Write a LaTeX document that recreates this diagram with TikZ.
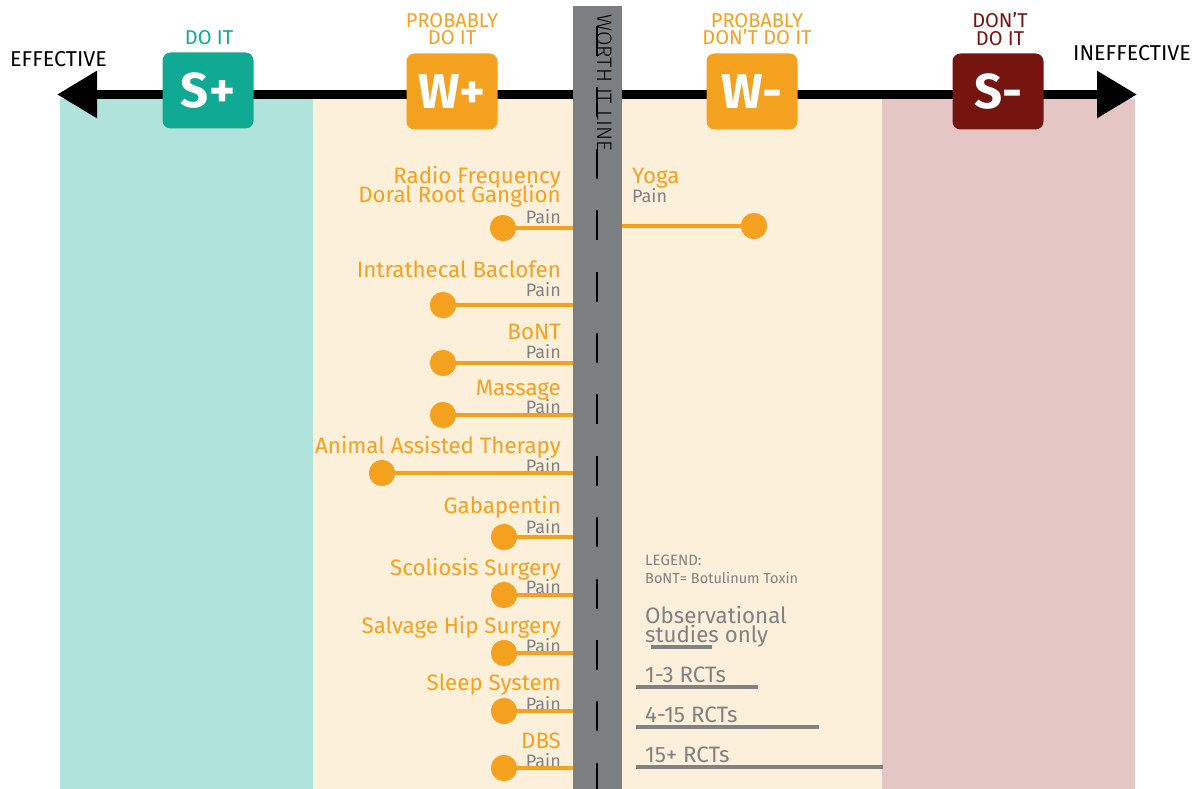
\documentclass[tikz,border=0pt]{standalone}
\usepackage{fontspec}
\setmainfont{Fira Sans}
\newfontfamily\thinfont{Fira Sans Light}
\usetikzlibrary{arrows.meta}

\definecolor{tealband}{HTML}{B0E3DB}
\definecolor{creamband}{HTML}{FDF0DB}
\definecolor{pinkband}{HTML}{E4C7C4}
\definecolor{barcol}{HTML}{7C7F82}
\definecolor{orng}{HTML}{F4A11F}
\definecolor{tealbox}{HTML}{0FA994}
\definecolor{darkred}{HTML}{76140F}
\definecolor{txtgray}{HTML}{808285}

\tikzset{
  verdict/.style={rounded corners=8pt, minimum width=91pt, minimum height=76pt,
    inner sep=0pt, text=white, font=\bfseries\fontsize{49}{49}\selectfont},
  toplabel/.style={anchor=base, inner sep=0pt, align=center, font=\fontsize{20}{17.5}\selectfont},
  axislabel/.style={font=\fontsize{21.5}{21.5}\selectfont, text=black},
  treat/.style={anchor=base east, text=orng, inner sep=0pt, font=\fontsize{22.3}{22.3}\selectfont},
  outcome/.style={anchor=base east, text=txtgray, inner sep=0pt, font=\fontsize{18}{18}\selectfont},
  dot/.style={circle, fill=orng, minimum size=26pt, inner sep=0pt},
  stem/.style={draw=orng, line width=4pt},
  legtext/.style={anchor=base west, text=txtgray, inner sep=0pt},
  legbar/.style={draw=txtgray, line width=4pt},
}

\begin{document}
\begin{tikzpicture}[x=1pt, y=-1pt]
\useasboundingbox (0,0) rectangle (1192,789);

% background bands
\fill[tealband] (60,99) rectangle (313,789);
\fill[creamband] (313,99) rectangle (882,789);
\fill[pinkband] (882,99) rectangle (1135,789);

% effectiveness axis
\coordinate (axL) at (57,94.5);
\coordinate (axR) at (1137,94.5);
\draw[line width=9pt, {Triangle[length=40pt,width=45pt]}-{Triangle[length=40pt,width=45pt]}] (axL) -- (axR);
\node[axislabel, anchor=base west, inner sep=0pt] (eff) at (10,67) {EFFECTIVE};
\node[axislabel, anchor=base west, inner sep=0pt] (ineff) at (1073,61) {INEFFECTIVE};

% verdict boxes
\node[verdict, fill=tealbox] (splus) at (208,90.5) {S+};
\node[verdict, fill=orng] (wplus) at (452,91.5) {W+};
\node[verdict, fill=orng] (wminus) at (752,91.5) {W-};
\node[verdict, fill=darkred] (sminus) at (998,91.5) {S-};

% verdict captions (anchored on the last line's baseline)
\node[toplabel, text=tealbox] (doit) at (209,45) {DO IT};
\node[toplabel, text=orng] (pdo) at (452,45) {PROBABLY\\DO IT};
\node[toplabel, text=orng] (pdont) at (757,45) {PROBABLY\\DON’T DO IT};
\node[toplabel, text=darkred, font=\fontsize{20}{18.5}\selectfont] (dont) at (1000,46) {DON’T\\DO IT};

% worth-it line
\node[fill=barcol, minimum width=49pt, minimum height=783pt, inner sep=0pt, anchor=north west] (bar) at (573,6) {};
\coordinate (dashTop) at (597,26);
\coordinate (dashBot) at (597,789);
\draw[line width=2pt, dash pattern=on 30pt off 31.4pt] (dashTop) -- (dashBot);
\node[rotate=-90, anchor=base west, inner sep=0pt, font=\thinfont\fontsize{21}{21}\selectfont] (worth) at (597,14) {WORTH IT LINE};

% treatments left of the line
\node[treat] (t1a) at (561,183) {Radio Frequency};
\node[treat] (t1b) at (561,203) {Doral Root Ganglion};
\node[outcome] (p1) at (561,223) {Pain};
\node[treat] (t2) at (561,277) {Intrathecal Baclofen};
\node[outcome] (p2) at (561,296) {Pain};
\node[treat] (t3) at (561,339) {BoNT};
\node[outcome] (p3) at (561,358) {Pain};
\node[treat] (t4) at (561,395) {Massage};
\node[outcome] (p4) at (561,413) {Pain};
\node[treat] (t5) at (561,453) {Animal Assisted Therapy};
\node[outcome] (p5) at (561,472) {Pain};
\node[treat] (t6) at (561,513) {Gabapentin};
\node[outcome] (p6) at (561,533) {Pain};
\node[treat] (t7) at (561,575) {Scoliosis Surgery};
\node[outcome] (p7) at (561,593) {Pain};
\node[treat] (t8) at (561,633) {Salvage Hip Surgery};
\node[outcome] (p8) at (561,652) {Pain};
\node[treat] (t9) at (561,690) {Sleep System};
\node[outcome] (p9) at (561,710) {Pain};
\node[treat] (t10) at (561,748) {DBS};
\node[outcome] (p10) at (561,767) {Pain};

% treatment right of the line
\node[treat, anchor=base west] (ty) at (632,183) {Yoga};
\node[outcome, anchor=base west] (py) at (632,203) {Pain};

% evidence stems and dots
\node[dot] (d1) at (503,228) {};
\node[dot] (d2) at (443,305) {};
\node[dot] (d3) at (443,363) {};
\node[dot] (d4) at (443,415) {};
\node[dot] (d5) at (382,473) {};
\node[dot] (d6) at (504,537) {};
\node[dot] (d7) at (504,595) {};
\node[dot] (d8) at (504,653) {};
\node[dot] (d9) at (504,711) {};
\node[dot] (d10) at (504,768) {};
\node[dot] (dy) at (754,226) {};
\foreach \d in {d1,d2,d3,d4,d5,d6,d7,d8,d9,d10}
  \draw[stem] (\d.center) -- (\d.center -| bar.west);
\draw[stem] (dy.center) -- (dy.center -| bar.east);
\foreach \d in {d1,d2,d3,d4,d5,d6,d7,d8,d9,d10,dy}
  \fill[orng] (\d) circle (13pt);

% legend
\node[legtext, align=left, font=\fontsize{14.5}{18}\selectfont] (leg) at (645,583) {\fontsize{15}{18}\selectfont LEGEND:\\BoNT= Botulinum Toxin};
\node[legtext, align=left, font=\fontsize{22.3}{19}\selectfont] (obs) at (645,642) {Observational\\studies only};
\node[legtext, font=\fontsize{22.3}{22.3}\selectfont] (r1) at (645,682) {1-3 RCTs};
\node[legtext, font=\fontsize{22.3}{22.3}\selectfont] (r2) at (645,722) {4-15 RCTs};
\node[legtext, font=\fontsize{22.3}{22.3}\selectfont] (r3) at (645,762) {15+ RCTs};
\coordinate (b0a) at (651,647); \coordinate (b0b) at (712,647);
\coordinate (b1a) at (636,687); \coordinate (b1b) at (758,687);
\coordinate (b2a) at (636,727); \coordinate (b2b) at (819,727);
\coordinate (b3a) at (636,767); \coordinate (b3b) at (883,767);
\draw[legbar] (b0a) -- (b0b);
\draw[legbar] (b1a) -- (b1b);
\draw[legbar] (b2a) -- (b2b);
\draw[legbar] (b3a) -- (b3b);
\end{tikzpicture}
\end{document}
